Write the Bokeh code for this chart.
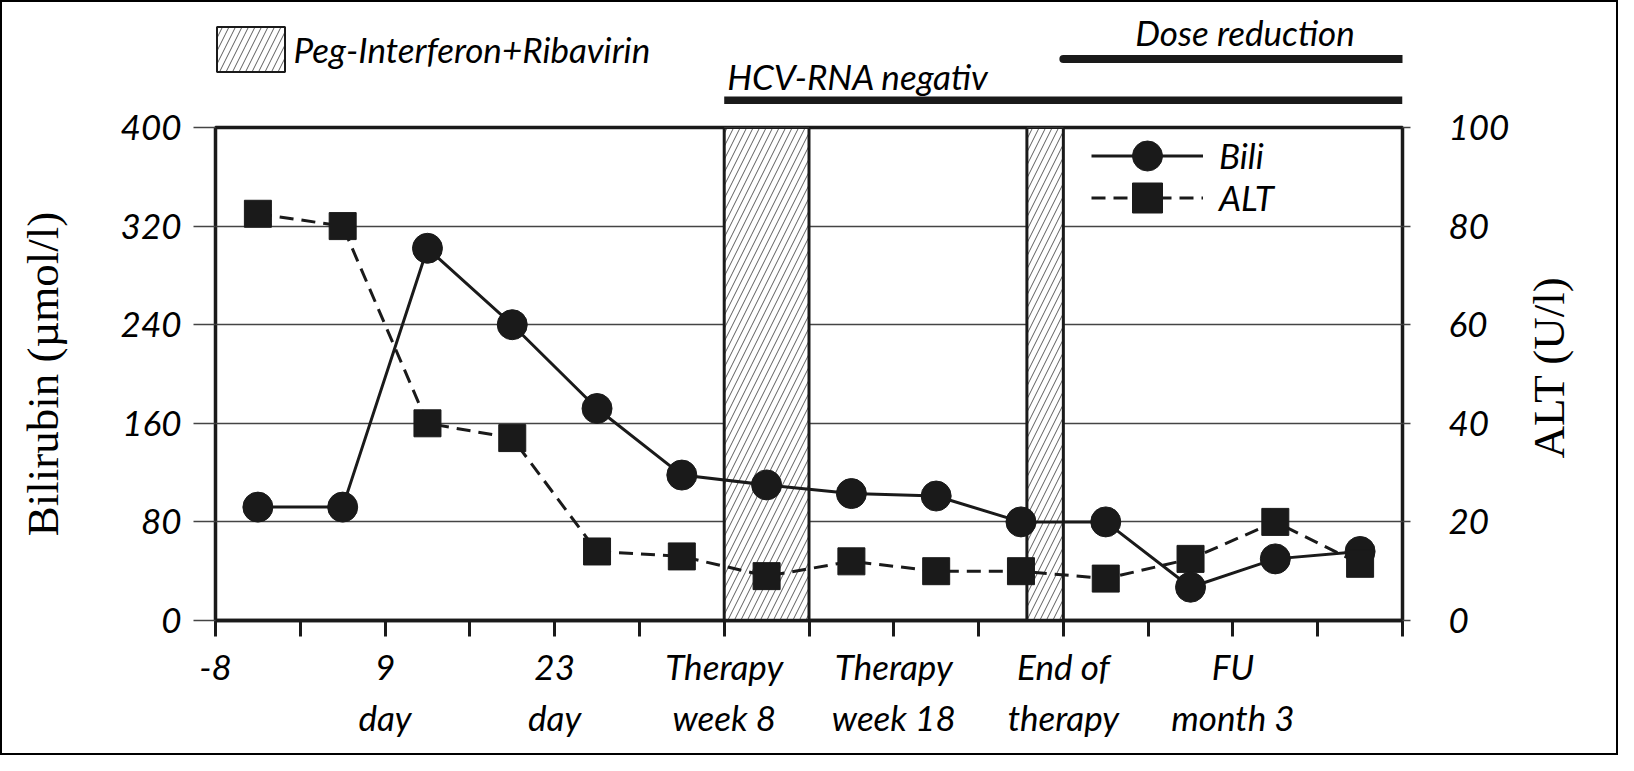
import math
from bokeh.plotting import figure
from bokeh.layouts import column, row
from bokeh.models import Range1d, LinearAxis, FixedTicker, Legend, LegendItem
from bokeh.core.properties import value
from bokeh.embed import file_html
from bokeh.resources import INLINE

# ---------------- data ----------------
n_slots = 14
tick_positions = [0, 2, 4, 6, 8, 10, 12]
tick_labels = ["-8", "9\nday", "23\nday", "Therapy\nweek 8", "Therapy\nweek 18",
               "End of\ntherapy", "FU\nmonth 3"]
bili = [92, 92, 302, 240, 172, 118, 110, 103, 101, 80, 80, 27, 50, 56]
alt = [82.5, 80, 40, 37, 14, 13, 9, 12, 10, 10, 8.5, 12.5, 20, 11.5]
therapy_start = [6, 9.57]
therapy_end = [7, 10]
period_labels = ["HCV-RNA negativ", "Dose reduction"]
period_start = [6, 10]
period_end = [14, 14]
left_ticks = [0, 80, 160, 240, 320, 400]
right_ticks = [0, 20, 40, 60, 80, 100]

FONT = "Lato"
SERIF = "Liberation Serif"
FS = "35px"
INK = "#1a1a1a"

# ---------------- layout (pixels) ----------------
W, H = 1618, 755
TOP_H = 104                  # strip above the chart
MAIN_H = H - TOP_H
MAIN_W = 1516
RIGHT_W = W - MAIN_W
ML, MR, MT, MB = 215, MAIN_W - 1402, 127 - TOP_H, H - 620

x = [i + 0.5 for i in range(len(bili))]
xr = Range1d(0, n_slots)

def bare(fig):
    fig.grid.visible = False
    fig.outline_line_color = None
    fig.background_fill_alpha = 0
    fig.border_fill_alpha = 0

# ---------------- main chart ----------------
p = figure(width=MAIN_W, height=MAIN_H, x_range=xr, y_range=Range1d(0, left_ticks[-1]),
           output_backend="svg", toolbar_location=None, title=None,
           min_border_left=ML, min_border_right=MR, min_border_top=MT, min_border_bottom=MB)
p.extra_y_ranges = {"alt": Range1d(0, right_ticks[-1])}
p.outline_line_color = INK
p.outline_line_width = 3.5
p.background_fill_color = "white"
p.border_fill_alpha = 0

p.xgrid.visible = False
p.ygrid.ticker = FixedTicker(ticks=left_ticks[1:-1])
p.ygrid.grid_line_color = "#444444"
p.ygrid.grid_line_width = 1.5

def style_ticks(ax):
    ax.major_label_text_font = FONT
    ax.major_label_text_font_style = "italic"
    ax.major_label_text_font_size = FS
    ax.major_label_text_color = "black"
    ax.minor_tick_line_color = None
    ax.major_tick_in = 0

# left axis
ya = p.yaxis[0]
ya.ticker = FixedTicker(ticks=left_ticks)
ya.axis_line_color = None
style_ticks(ya)
ya.major_tick_out = 22
ya.major_tick_line_color = "#444444"
ya.major_tick_line_width = 1.5
ya.major_label_standoff = 12
ya.axis_label = "Bilirubin (µmol/l)"
ya.axis_label_text_font = SERIF
ya.axis_label_text_font_style = "normal"
ya.axis_label_text_font_size = "45px"
ya.axis_label_text_color = "black"
ya.axis_label_standoff = 50

# right axis (its title sits in the strip on the right, reading upwards)
ra = LinearAxis(y_range_name="alt", ticker=FixedTicker(ticks=right_ticks))
ra.axis_line_color = None
style_ticks(ra)
ra.major_tick_out = 8
ra.major_tick_line_color = "#444444"
ra.major_tick_line_width = 1.5
ra.major_label_standoff = 38
p.add_layout(ra, "right")

# bottom axis
xa = p.xaxis[0]
xa.ticker = FixedTicker(ticks=list(range(n_slots + 1)))
overrides = {t: "" for t in range(n_slots + 1)}
for t, lab in zip(tick_positions, tick_labels):
    overrides[t] = lab
xa.major_label_overrides = overrides
style_ticks(xa)
xa.axis_line_width = 3.5
xa.axis_line_color = INK
xa.major_tick_out = 16
xa.major_tick_line_width = 3
xa.major_tick_line_color = INK
xa.major_label_standoff = 8
xa.major_label_text_line_height = 1.22

hatch = dict(fill_color="white", hatch_pattern="/", hatch_color="#333333",
             hatch_scale=13, hatch_weight=0.8, line_color=INK)

# therapy bands
p.quad(left=therapy_start, right=therapy_end, bottom=0, top=left_ticks[-1],
       line_width=3, **hatch)

# series
bl = p.line(x, bili, line_color=INK, line_width=3)
bs = p.scatter(x, bili, marker="circle", size=30, fill_color=INK, line_color=INK)
al = p.line(x, alt, y_range_name="alt", line_color=INK, line_width=3, line_dash="14 8")
as_ = p.scatter(x, alt, y_range_name="alt", marker="square", size=27,
                fill_color=INK, line_color=INK)

common = dict(padding=0, margin=0, border_line_color=None, background_fill_alpha=0,
              label_text_font=FONT, label_text_font_style="italic",
              label_text_font_size=FS, label_text_color="black")
leg_b = Legend(items=[LegendItem(label="Bili", renderers=[bl, bs])],
               location=(876, 620 - 192.5), glyph_width=112, glyph_height=75, label_height=52,
               label_standoff=16, **common)
leg_a = Legend(items=[LegendItem(label="ALT", renderers=[al, as_])],
               location=(876, 620 - 234.5), glyph_width=112, glyph_height=75, label_height=52,
               label_standoff=16, **common)
p.add_layout(leg_b)
p.add_layout(leg_a)

# ---------------- strip on the right: ALT axis title ----------------
r = figure(width=RIGHT_W, height=MAIN_H, x_range=Range1d(MAIN_W, W), y_range=Range1d(H, TOP_H),
           output_backend="svg", toolbar_location=None, title=None,
           x_axis_location=None, y_axis_location=None,
           min_border_left=0, min_border_right=0, min_border_top=0, min_border_bottom=0)
bare(r)
r.text(x=[1548], y=[421], text=["ALT (U/l)"], angle=math.pi / 2, text_align="center",
       text_baseline="middle", text_font=value(SERIF), text_font_size="45px", text_color="black")

# ---------------- strip above the chart ----------------
t = figure(width=W, height=TOP_H, x_range=xr, y_range=Range1d(TOP_H, 0),
           output_backend="svg", toolbar_location=None, title=None,
           x_axis_location=None, y_axis_location=None,
           min_border_left=ML, min_border_right=W - 1402, min_border_top=0, min_border_bottom=0)
bare(t)

bar_y = [100, 58.5]
text_y = [75, 31]
t.segment(x0=[period_start[0]], y0=[bar_y[0]], x1=[period_end[0]], y1=[bar_y[0]],
          line_color=INK, line_width=8, line_cap="butt")
t.segment(x0=[period_start[1]], y0=[bar_y[1]], x1=[period_end[1]], y1=[bar_y[1]],
          line_color=INK, line_width=8, line_cap="round")
t.text(x=[period_start[0]], y=[text_y[0]], text=[period_labels[0]],
       x_offset=3, text_align="left", text_baseline="middle",
       text_font=value(FONT), text_font_style="italic", text_font_size=FS, text_color="black")
t.text(x=[(period_start[1] + period_end[1]) / 2], y=[text_y[1]], text=[period_labels[1]],
       x_offset=12, text_align="center", text_baseline="middle",
       text_font=value(FONT), text_font_style="italic", text_font_size=FS, text_color="black")

# legend key for the therapy bands: same bands, drawn below the strip's visible area
sw = t.quad(left=therapy_start, right=therapy_end, bottom=TOP_H + 50, top=TOP_H + 60,
            line_width=2, **hatch)
leg1 = Legend(items=[LegendItem(label="Peg-Interferon+Ribavirin", renderers=[sw])],
              location=(-7.5, TOP_H - 76.5), glyph_width=85, glyph_height=56, label_height=56,
              label_standoff=1, **common)
t.add_layout(leg1)

layout = column(t, row(p, r, spacing=0), spacing=0)
layout.styles = {"outline": "2px solid black", "outline-offset": "-2px"}

open("out.html", "w").write(file_html(layout, INLINE))
